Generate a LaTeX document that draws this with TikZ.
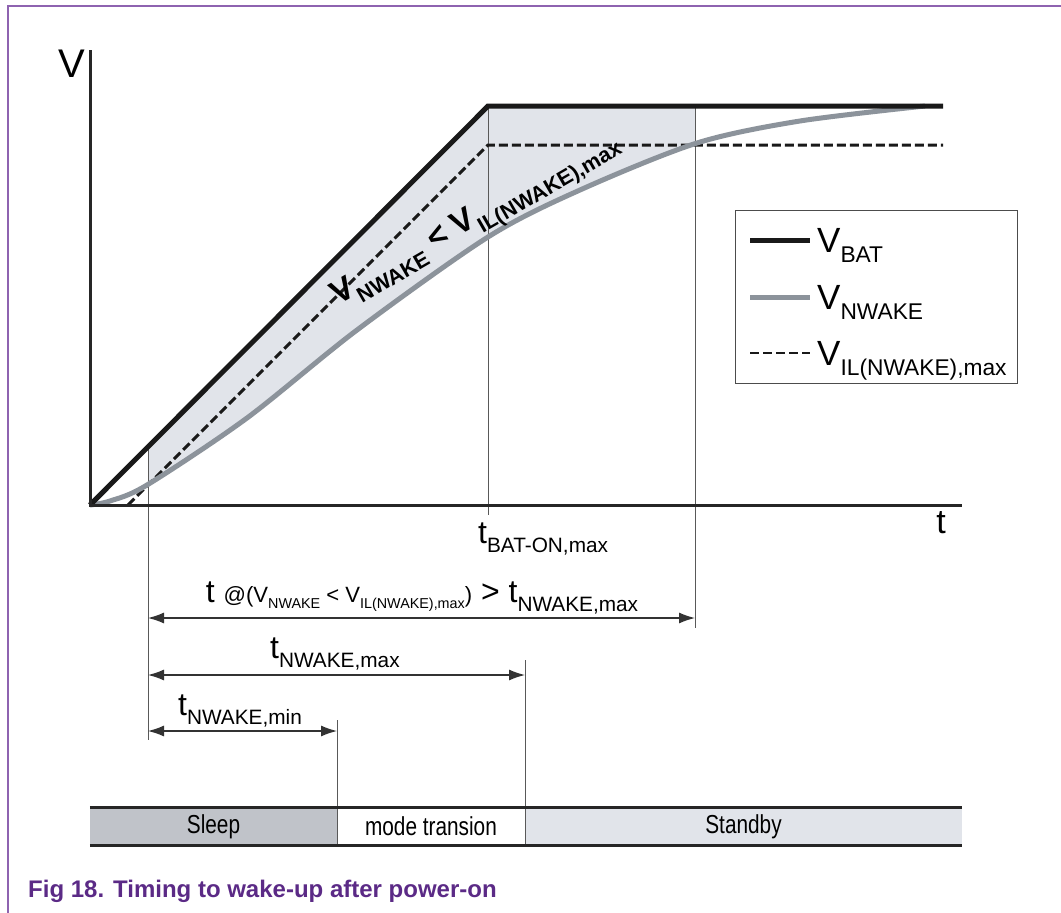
\documentclass[tikz,border=0pt]{standalone}
\usepackage{fontspec}
\setmainfont{Liberation Sans}
\newfontfamily\narrowfont[FakeStretch=0.8]{Liberation Sans}
\usetikzlibrary{arrows.meta}

\definecolor{wakegray}{HTML}{8C939B}
\definecolor{shadegray}{HTML}{E1E4EA}
\definecolor{sleepgray}{HTML}{C0C3C9}
\definecolor{capurple}{HTML}{5B2A86}
\definecolor{framepurple}{HTML}{8E63B0}

\newcommand{\lsub}[1]{\raisebox{-0.3em}{\scalebox{0.65}{#1}}}

\begin{document}
\begin{tikzpicture}[x=1pt, y=-1pt,
  vbat/.style={line width=5pt, black!90},
  vwake/.style={line width=5pt, wakegray},
  vil/.style={line width=3pt, black!90, dash pattern=on 9pt off 4pt},
  axis/.style={line width=3pt, black!85},
  guide/.style={line width=0.9pt, black!65},
  dim/.style={line width=1.2pt, black!80, {Latex[length=16pt,width=11pt]}-{Latex[length=16pt,width=11pt]}},
  lbl/.style={inner sep=0pt, font=\fontsize{32}{38}\selectfont},
  cell/.style={inner sep=0pt, minimum height=37pt, font=\narrowfont\fontsize{26}{30}\selectfont},
]
\useasboundingbox (0,0) rectangle (1061,913);

% ===== Frame =====

\draw[framepurple, line width=2pt] (1061,6) -- (8,6) -- (8,913);

% ===== Points =====

\coordinate (O) at (90,505);
\coordinate (ytop) at (90,50);
\coordinate (xend) at (962,505);
\coordinate (batknee) at (488,106);
\coordinate (batend) at (943,106);
\coordinate (ilstart) at (128,505);
\coordinate (ilknee) at (488,145);
\coordinate (ilend) at (943,145);

% ===== Shaded area =====

\begin{scope}
\clip (148,0) rectangle (695,913);
\fill[shadegray] (O) -- (batknee) -- (batend)
  -- plot[smooth] coordinates {(925,106) (800,121) (697,143) (580,190) (488,237)
     (357,330) (247,418) (147,485) (110,501) (90,505)} -- cycle;
\end{scope}

% ===== Guides =====

\coordinate (g1t) at (148,447);  \coordinate (g1b) at (148,740);
\coordinate (g2t) at (337,720);  \coordinate (g2b) at (337,845);
\coordinate (g3t) at (525,660);  \coordinate (g3b) at (525,845);
\coordinate (g4b) at (488,515);
\coordinate (g5t) at (695,106);  \coordinate (g5b) at (695,628);

\draw[guide] (g1t) -- (g1b);
\draw[guide] (batknee) -- (g4b);
\draw[guide] (g5t) -- (g5b);

% ===== Curves =====

\draw[vil] (ilstart) -- (ilknee) -- (ilend);
\draw[vwake] plot[smooth] coordinates {(90,505) (110,501) (147,485) (247,418) (357,330)
  (488,237) (580,190) (697,143) (800,121) (925,106)};
\draw[vbat] (O) -- (batknee) -- (batend);

% ===== Axes =====

\draw[axis] (ytop) -- (O) -- (xend);
\node[inner sep=0pt, font=\fontsize{40}{46}\selectfont] (vlab) at (72,64) {V};
\node[inner sep=0pt, font=\fontsize{34}{40}\selectfont] (tlab) at (941,523) {t};
\node[lbl, anchor=base west] (tbat) at (478,543) {t\lsub{BAT-ON,max}};

\node[inner sep=0pt, anchor=base west, rotate=30, font=\bfseries\fontsize{33}{40}\selectfont]
  (slopelab) at (338,306) {V\lsub{NWAKE} < V\lsub{IL(NWAKE),max}};

% ===== Legend =====

\node[draw=black!70, line width=1pt, minimum width=282pt, minimum height=173pt, inner sep=0pt]
  (legend) at (876,296.5) {};
\coordinate (lg1a) at (750,240); \coordinate (lg1b) at (810,240);
\coordinate (lg2a) at (750,297); \coordinate (lg2b) at (810,297);
\coordinate (lg3a) at (750,353); \coordinate (lg3b) at (810,353);
\draw[vbat] (lg1a) -- (lg1b);
\draw[vwake] (lg2a) -- (lg2b);
\draw[line width=2.2pt, black!90, dash pattern=on 9pt off 4pt] (lg3a) -- (lg3b);
\node[lbl, anchor=base west, font=\fontsize{35}{40}\selectfont] (lgbat) at (817,252) {V\lsub{BAT}};
\node[lbl, anchor=base west, font=\fontsize{35}{40}\selectfont] (lgwake) at (817,309) {V\lsub{NWAKE}};
\node[lbl, anchor=base west, font=\fontsize{35}{40}\selectfont] (lgil) at (817,365) {V\lsub{IL(NWAKE),max}};

% ===== Timing arrows =====

\coordinate (d1l) at (148,618); \coordinate (d1r) at (695,618);
\coordinate (d2l) at (148,675); \coordinate (d2r) at (525,675);
\coordinate (d3l) at (148,731); \coordinate (d3r) at (337,731);

\draw[dim] (d1l) -- (d1r);
\draw[dim] (d2l) -- (d2r);
\draw[dim] (d3l) -- (d3r);

\node[lbl, anchor=base] (dimall) at (422,602)
  {t \scalebox{0.69}{@(V\lsub{NWAKE} < V\lsub{IL(NWAKE),max})} > t\lsub{NWAKE,max}};
\node[lbl, anchor=base west] (dimmax) at (270,658) {t\lsub{NWAKE,max}};
\node[lbl, anchor=base west] (dimmin) at (178,715) {t\lsub{NWAKE,min}};

% ===== Modes =====

\node[cell, fill=sleepgray, minimum width=247pt] (sleep) at (213.5,826.5) {Sleep};
\node[cell, minimum width=188pt] (trans) at (431,826.5) {mode transion};
\node[cell, fill=shadegray, minimum width=437pt] (standby) at (743.5,826.5) {Standby};
\draw[guide] (g2t) -- (g2b);
\draw[guide] (g3t) -- (g3b);
\draw[line width=3pt, black!85] (sleep.north west) -- (standby.north east);
\draw[line width=3pt, black!85] (sleep.south west) -- (standby.south east);

% ===== Caption =====

\node[inner sep=0pt, anchor=base west, text=capurple, font=\bfseries\fontsize{24}{28}\selectfont]
  (figcap) at (28,897) {Fig 18. Timing to wake-up after power-on};

\end{tikzpicture}
\end{document}
